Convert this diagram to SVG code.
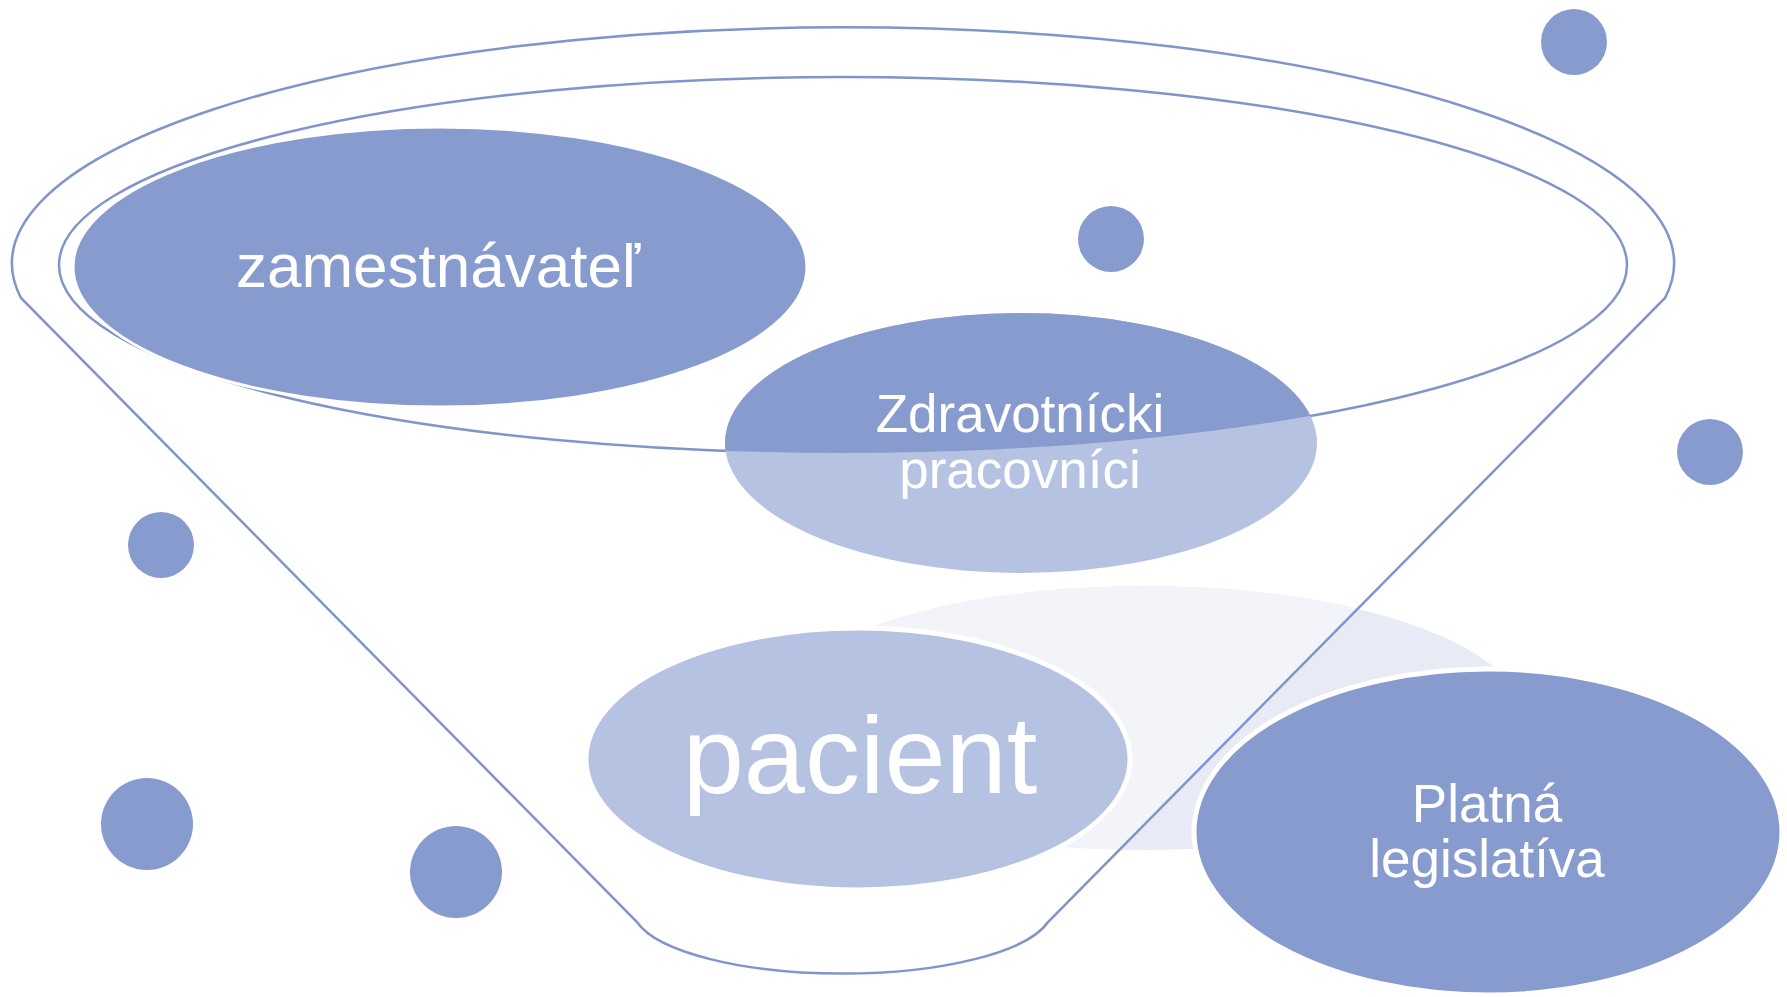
<svg xmlns="http://www.w3.org/2000/svg" width="1787" height="997" viewBox="0 0 1787 997">
<style>
.line{fill:none;stroke:#8195CC;stroke-width:2.5}
.dark{fill:#889BCE}
.light{fill:#B6C2E2}
.dot{fill:#889BCE}
.lbl{font-family:"Liberation Sans",Arial,sans-serif;fill:#FFFFFF;text-anchor:middle}
</style>
<defs>
<clipPath id="innerClip"><ellipse cx="843" cy="265" rx="784" ry="188"/></clipPath>
<clipPath id="funnelClip"><path d="M21 298 A831 236 0 1 1 1665 298 L1048 922 A210 65 0 0 1 637 922 Z"/></clipPath>
</defs>
<rect width="1787" height="997" fill="#FFFFFF"/>
<g id="backdrop">
<ellipse cx="1145" cy="718" rx="378" ry="132" fill="#E8EBF5"/>
<ellipse cx="1145" cy="718" rx="378" ry="132" fill="#F2F4F9" clip-path="url(#funnelClip)"/>
</g>
<g id="connectors">
<path class="line" d="M21 298 A831 236 0 1 1 1665 298 L1048 922 A210 65 0 0 1 637 922 Z"/>
<ellipse class="line" cx="843" cy="265" rx="784" ry="188"/>
</g>
<g id="zamestnavatel">
<ellipse class="dark" cx="440" cy="267" rx="367" ry="140" stroke="#FFFFFF" stroke-width="3"/>
<text class="lbl" x="438" y="287" font-size="62">zamestnávateľ</text>
</g>
<g id="zdravotnicki">
<ellipse class="light" cx="1021" cy="443" rx="296" ry="130"/>
<ellipse class="dark" cx="1021" cy="443" rx="296" ry="130" clip-path="url(#innerClip)"/>
<text class="lbl" font-size="53"><tspan x="1020" y="432">Zdravotnícki</tspan><tspan x="1020" y="488">pracovníci</tspan></text>
</g>
<g id="pacient">
<ellipse class="light" cx="858" cy="759" rx="272" ry="131" stroke="#FFFFFF" stroke-width="5"/>
<text class="lbl" x="860" y="793" font-size="110">pacient</text>
</g>
<g id="legislativa">
<ellipse class="dark" cx="1488" cy="832" rx="294" ry="163" stroke="#FFFFFF" stroke-width="5"/>
<text class="lbl" font-size="53"><tspan x="1487" y="822">Platná</tspan><tspan x="1487" y="877">legislatíva</tspan></text>
</g>
<g id="dots">
<circle class="dot" cx="1574" cy="42" r="33"/>
<circle class="dot" cx="1111" cy="239" r="33"/>
<circle class="dot" cx="1710" cy="452" r="33"/>
<circle class="dot" cx="161" cy="545" r="33"/>
<circle class="dot" cx="147" cy="824" r="46"/>
<circle class="dot" cx="456" cy="872" r="46"/>
</g>
</svg>
